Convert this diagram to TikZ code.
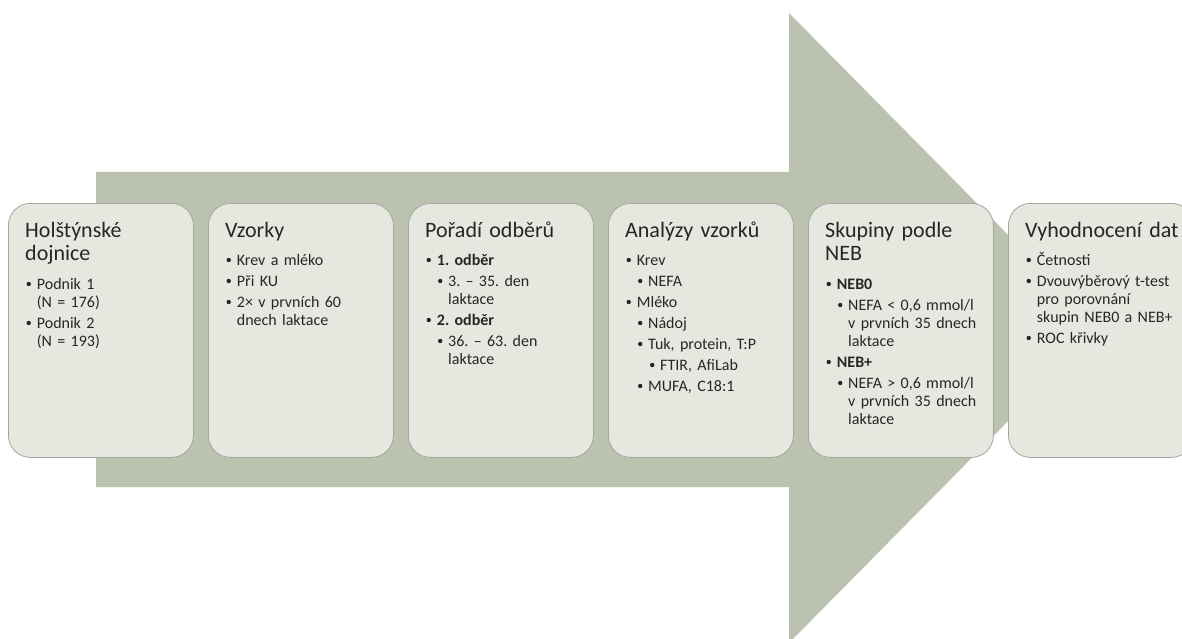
\documentclass[tikz,border=0pt]{standalone}
\usepackage{fontspec}
\setmainfont{Carlito}
\frenchspacing
\definecolor{arrowc}{HTML}{BBC3B0}
\definecolor{boxfill}{HTML}{E6E8E0}
\definecolor{boxline}{HTML}{A3A69E}
\definecolor{txt}{HTML}{262626}
\newcommand\bdot{\makebox[0pt][c]{\tikz[baseline=0pt]\fill[txt] (0pt,5pt) circle[radius=2.2pt];}}
\newcommand\lvA{\hspace*{2.5pt}\bdot\hspace*{8.2pt}}
\newcommand\lvB{\hspace*{14pt}\bdot\hspace*{8pt}}
\newcommand\lvC{\hspace*{26pt}\bdot\hspace*{8pt}}
\newcommand\cnA{\hspace*{10.7pt}}
\newcommand\cnB{\hspace*{22pt}}
\begin{document}
\begin{tikzpicture}[x=1pt,y=-1pt,
  stagebox/.style={draw=boxline, fill=boxfill, line width=0.8pt, rounded corners=22pt,
    minimum width=185pt, minimum height=254pt, inner sep=0pt, anchor=north west},
  ttl/.style={anchor=base west, inner sep=0pt, text width=175pt, align=left,
    font=\fontsize{22}{23}\selectfont, text=txt},
  lst/.style={anchor=base west, inner sep=0pt, text width=170pt, align=left,
    font=\fontsize{16}{18}\selectfont, text=txt}]
\useasboundingbox (0,0) rectangle (1182,639);
\clip (0,0) rectangle (1182,639);
\fill[white] (0,0) rectangle (1182,639);
% big arrow
\fill[arrowc] (96,172) -- (789,172) -- (789,13) -- (1100,328) -- (789,643)
  -- (789,487) -- (96,487) -- cycle;
% boxes
\node[stagebox] (b1) at (8,203) {};
\node[stagebox] (b2) at (208,203) {};
\node[stagebox] (b3) at (408,203) {};
\node[stagebox] (b4) at (608,203) {};
\node[stagebox] (b5) at (808,203) {};
\node[stagebox] (b6) at (1008,203) {};
% titles
\node[ttl] (t1) at (25,237) {Holštýnské\\dojnice};
\node[ttl] (t2) at (225,237) {Vzorky};
\node[ttl] (t3) at (425,237) {Pořadí odběrů};
\node[ttl] (t4) at (625,237) {Analýzy vzorků};
\node[ttl] (t5) at (825,237) {Skupiny podle\\NEB};
\node[ttl] (t6) at (1025,237) {Vyhodnocení dat};
% lists
\node[lst] (l1) at (26,289) {\lvA Podnik 1\\ \cnA (N = 176)\\[3pt]
  \lvA Podnik 2\\ \cnA (N = 193)};
\node[lst] (l2) at (226,265) {\lvA Krev a mléko\\[3pt] \lvA Při KU\\[3pt]
  \lvA 2× v prvních 60\\ \cnA dnech laktace};
\node[lst] (l3) at (426,265) {\lvA \textbf{1. odběr}\\[3pt]
  \lvB 3. – 35. den\\ \cnB laktace\\[3pt]
  \lvA \textbf{2. odběr}\\[3pt]
  \lvB 36. – 63. den\\ \cnB laktace};
\node[lst] (l4) at (626,265) {\lvA Krev\\[3pt] \lvB NEFA\\[3pt] \lvA Mléko\\[3pt]
  \lvB Nádoj\\[3pt] \lvB Tuk, protein, T:P\\[3pt] \lvC FTIR, AfiLab\\[3pt]
  \lvB MUFA, C18:1};
\node[lst] (l5) at (826,289) {\lvA \textbf{NEB0}\\[3pt]
  \lvB NEFA < 0,6 mmol/l\\ \cnB v prvních 35 dnech\\ \cnB laktace\\[3pt]
  \lvA \textbf{NEB+}\\[3pt]
  \lvB NEFA > 0,6 mmol/l\\ \cnB v prvních 35 dnech\\ \cnB laktace};
\node[lst] (l6) at (1026,265) {\lvA Četnosti\\[3pt] \lvA Dvouvýběrový t-test\\
  \cnA pro porovnání\\ \cnA skupin NEB0 a NEB+\\[3pt] \lvA ROC křivky};
\end{tikzpicture}
\end{document}
